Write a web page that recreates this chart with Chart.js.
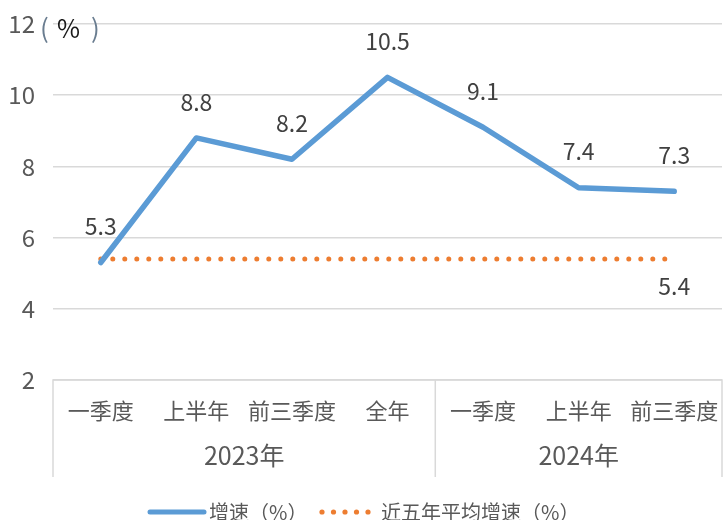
<!DOCTYPE html>
<html><head><meta charset="utf-8">
<script src="https://cdn.jsdelivr.net/npm/chart.js@4/dist/chart.umd.min.js"></script>
<style>html,body{margin:0;padding:0;background:#fff}#wrap{width:724px;height:520px}</style>
</head><body><div id="wrap"><canvas id="c" width="724" height="520"></canvas></div>
<script>
const categories = ['一季度','上半年','前三季度','全年','一季度','上半年','前三季度'];
const groups = [{label:'2023年', from:0, to:3},{label:'2024年', from:4, to:6}];
const growth = [5.3, 8.8, 8.2, 10.5, 9.1, 7.4, 7.3];
const avgFive = [5.4, 5.4, 5.4, 5.4, 5.4, 5.4, 5.4];
const seriesNames = ['增速（%）','近五年平均增速（%）'];
const yTicks = {min:2, max:12, step:2};

const FONT = '"Noto Sans CJK SC","Noto Sans",sans-serif';
const BLUE = '#5B9BD5', ORANGE = '#ED7D31', TXT = '#404040', LBL = '#595959', GRID = '#D9D9D9';

const deco = {
  id:'deco',
  afterDatasetsDraw(chart){
    const ctx = chart.ctx, x = chart.scales.x, y = chart.scales.y, ca = chart.chartArea;
    ctx.save();
    // unit label
    const uy = y.getPixelForValue(12) + 4;
    ctx.textBaseline = 'middle'; ctx.textAlign = 'left';
    ctx.font = '26px ' + FONT;
    ctx.fillStyle = '#6a7d90'; ctx.fillText('(', 40, uy);
    ctx.fillStyle = '#1a1a1a'; ctx.font = '25px ' + FONT; ctx.fillText('%', 57, uy);
    ctx.fillStyle = '#6a7d90'; ctx.font = '26px ' + FONT; ctx.fillText(')', 91, uy);
    // data labels
    ctx.font = '23px ' + FONT; ctx.fillStyle = TXT; ctx.textAlign = 'center';
    const m0 = chart.getDatasetMeta(0);
    m0.data.forEach((p,i)=>{ ctx.fillText(growth[i].toFixed(1), p.x, p.y - 36); });
    const m1 = chart.getDatasetMeta(1);
    const last = m1.data[m1.data.length-1];
    ctx.fillText(avgFive[avgFive.length-1].toFixed(1), last.x, last.y + 27);
    // category box
    const step = x.getPixelForValue(1) - x.getPixelForValue(0);
    const left = x.getPixelForValue(0) - step/2;
    const right = x.getPixelForValue(categories.length-1) + step/2;
    const top = ca.bottom, bottom = ca.bottom + 97;
    ctx.strokeStyle = GRID; ctx.lineWidth = 1.5;
    ctx.beginPath();
    ctx.moveTo(left, bottom); ctx.lineTo(left, top); ctx.lineTo(right, top); ctx.lineTo(right, bottom);
    groups.forEach((g,gi)=>{ if(gi>0){ const gx = x.getPixelForValue(g.from) - step/2; ctx.moveTo(gx, top); ctx.lineTo(gx, bottom);} });
    ctx.stroke();
    ctx.font = '22px ' + FONT; ctx.fillStyle = LBL;
    categories.forEach((c,i)=>{ ctx.fillText(c, x.getPixelForValue(i), top + 31); });
    ctx.font = '25px ' + FONT;
    groups.forEach(g=>{
      const cx = (x.getPixelForValue(g.from) + x.getPixelForValue(g.to))/2;
      ctx.fillText(g.label, cx, top + 75);
    });
    // legend
    const ly = 512;
    ctx.strokeStyle = BLUE; ctx.lineWidth = 5; ctx.lineCap = 'round';
    ctx.beginPath(); ctx.moveTo(150, ly); ctx.lineTo(204, ly); ctx.stroke();
    ctx.font = '20px ' + FONT; ctx.textAlign = 'left'; ctx.fillStyle = LBL;
    ctx.fillText(seriesNames[0], 209, ly);
    ctx.fillStyle = ORANGE;
    for(let k=0;k<5;k++){ ctx.beginPath(); ctx.arc(322 + k*11.5, ly, 2.6, 0, Math.PI*2); ctx.fill(); }
    ctx.fillStyle = LBL;
    ctx.fillText(seriesNames[1], 381, ly);
    ctx.restore();
  }
};

new Chart(document.getElementById('c'), {
  type:'line',
  data:{
    labels: categories,
    datasets:[
      {label:seriesNames[0], data:growth, borderColor:BLUE, borderWidth:5.5, pointRadius:0, tension:0, borderCapStyle:'round', borderJoinStyle:'round', order:1},
      {label:seriesNames[1], data:avgFive, borderColor:ORANGE, borderWidth:5, borderDash:[0,12], borderCapStyle:'round', pointRadius:0, tension:0, order:2}
    ]
  },
  options:{
    responsive:false, animation:false,
    layout:{padding:{top:24, right:2, bottom:43, left:0}},
    plugins:{legend:{display:false}, tooltip:{enabled:false}},
    scales:{
      x:{offset:true, grid:{display:false}, border:{display:false}, ticks:{display:false},
         afterFit(s){ s.height = 97; }},
      y:{min:yTicks.min, max:yTicks.max, ticks:{stepSize:yTicks.step, color:LBL, font:{size:24, family:FONT}, padding:18},
         grid:{color:GRID, lineWidth:1.5, drawTicks:false}, border:{display:false},
         afterFit(s){ s.width = 53; s.paddingTop = 0; s.paddingBottom = 0; }}
    }
  },
  plugins:[deco]
});
</script></body></html>
